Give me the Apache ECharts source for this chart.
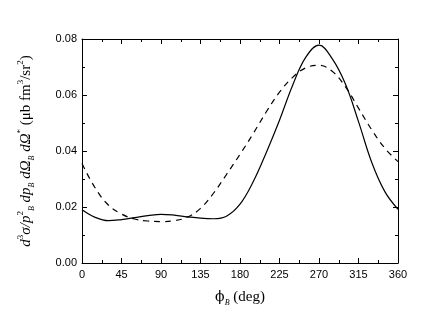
<!DOCTYPE html>
<html>
<head>
<meta charset="utf-8">
<script src="https://cdn.jsdelivr.net/npm/echarts@6/dist/echarts.min.js"></script>
<style>
  html, body { margin: 0; padding: 0; background: #fff; }
  #chart { width: 436px; height: 324px; }
</style>
</head>
<body>
<div id="chart"></div>
<script>
// phi_B in degrees
var phi = [0, 15, 30, 45, 60, 75, 90, 105, 120, 135, 150, 165, 180,
           195, 210, 225, 240, 255, 270, 285, 300, 315, 330, 345, 360];
// solid curve
var solidVals = [0.0190, 0.0163, 0.0151, 0.0155, 0.0162, 0.0169, 0.0174, 0.0171, 0.0165, 0.0160, 0.0158, 0.0168, 0.0210,
                 0.0290, 0.0395, 0.0510, 0.0635, 0.0735, 0.0778, 0.0730, 0.0640, 0.0505, 0.0360, 0.0255, 0.0192];
// dashed curve
var dashedVals = [0.0355, 0.0268, 0.0207, 0.0175, 0.0157, 0.0150, 0.0148, 0.0151, 0.0164, 0.0195, 0.0250, 0.0318, 0.0388,
                  0.0462, 0.0540, 0.0610, 0.0663, 0.0697, 0.0706, 0.0685, 0.0630, 0.0553, 0.0476, 0.0410, 0.0362];
var xTicks = [0, 45, 90, 135, 180, 225, 270, 315, 360];
var yTicks = ['0.00', '0.02', '0.04', '0.06', '0.08'];

function pairs(vals) {
  var out = [];
  for (var i = 0; i < phi.length; i++) out.push([phi[i], vals[i]]);
  return out;
}

var chart = echarts.init(document.getElementById('chart'));

var tickFont = { color: '#000', fontFamily: 'Liberation Sans', fontSize: 11 };
var frameLine = { show: true, onZero: false, lineStyle: { color: '#000', width: 1 } };
var majorTick = { show: true, inside: true, length: 5, lineStyle: { color: '#000' } };
var minorTick = { show: true, splitNumber: 2, length: 3, lineStyle: { color: '#000' } };

var serif = 'Liberation Serif';
var yRich = {
  i: { fontFamily: serif, fontStyle: 'italic', fontSize: 15, color: '#000', lineHeight: 20 },
  n: { fontFamily: serif, fontSize: 15, color: '#000', lineHeight: 20 },
  sup: { fontFamily: serif, fontSize: 9, color: '#000', verticalAlign: 'top', lineHeight: 20 },
  sub: { fontFamily: serif, fontStyle: 'italic', fontSize: 8, color: '#000', verticalAlign: 'bottom', lineHeight: 20 }
};

chart.setOption({
  animation: false,
  grid: { left: 82, right: 38, top: 39, bottom: 61 },
  xAxis: [{
    type: 'value', min: 0, max: 360, interval: 45,
    axisLine: frameLine, axisTick: majorTick, minorTick: minorTick,
    splitLine: { show: false },
    axisLabel: Object.assign({ margin: 6, formatter: function (v) { return xTicks.indexOf(v) >= 0 ? String(v) : ''; } }, tickFont),
    name: '{p|\u03d5}{sub|B}{n| (deg)}',
    nameLocation: 'middle', nameGap: 24,
    nameTextStyle: {
      rich: {
        p: { fontFamily: 'DejaVu Serif', fontSize: 14, color: '#000', lineHeight: 20 },
        n: { fontFamily: serif, fontSize: 15, color: '#000', lineHeight: 20 },
        sub: { fontFamily: serif, fontStyle: 'italic', fontSize: 8, color: '#000', verticalAlign: 'bottom', lineHeight: 20 }
      }
    }
  }, {
    type: 'value', min: 0, max: 360, interval: 45, position: 'top',
    axisLine: frameLine, axisTick: majorTick, minorTick: minorTick,
    splitLine: { show: false }, axisLabel: { show: false }
  }],
  yAxis: [{
    type: 'value', min: 0, max: 0.08, interval: 0.02,
    axisLine: frameLine, axisTick: majorTick, minorTick: minorTick,
    splitLine: { show: false },
    axisLabel: Object.assign({ margin: 5, formatter: function (v) { return yTicks[Math.round(v / 0.02)]; } }, tickFont),
    name: '{i|d}{sup|3}{i|\u03c3/p}{sup|2}{sub|B}{i| dp}{sub|B}{i| d\u03a9}{sub|B}{i| d\u03a9}{sup|*}{n| (\u03bcb fm}{sup|3}{n|/sr}{sup|2}{n|)}',
    nameLocation: 'middle', nameRotate: 90, nameGap: 46,
    nameTextStyle: { rich: yRich }
  }, {
    type: 'value', min: 0, max: 0.08, interval: 0.02, position: 'right',
    axisLine: frameLine, axisTick: majorTick, minorTick: minorTick,
    splitLine: { show: false }, axisLabel: { show: false }
  }],
  series: [{
    name: 'solid', type: 'line', smooth: 0.4, symbol: 'none',
    data: pairs(solidVals),
    lineStyle: { color: '#000', width: 1.2, type: 'solid' }
  }, {
    name: 'dashed', type: 'line', smooth: 0.4, symbol: 'none',
    data: pairs(dashedVals),
    lineStyle: { color: '#000', width: 1.2, type: [6, 5] }
  }]
});
</script>
</body>
</html>
